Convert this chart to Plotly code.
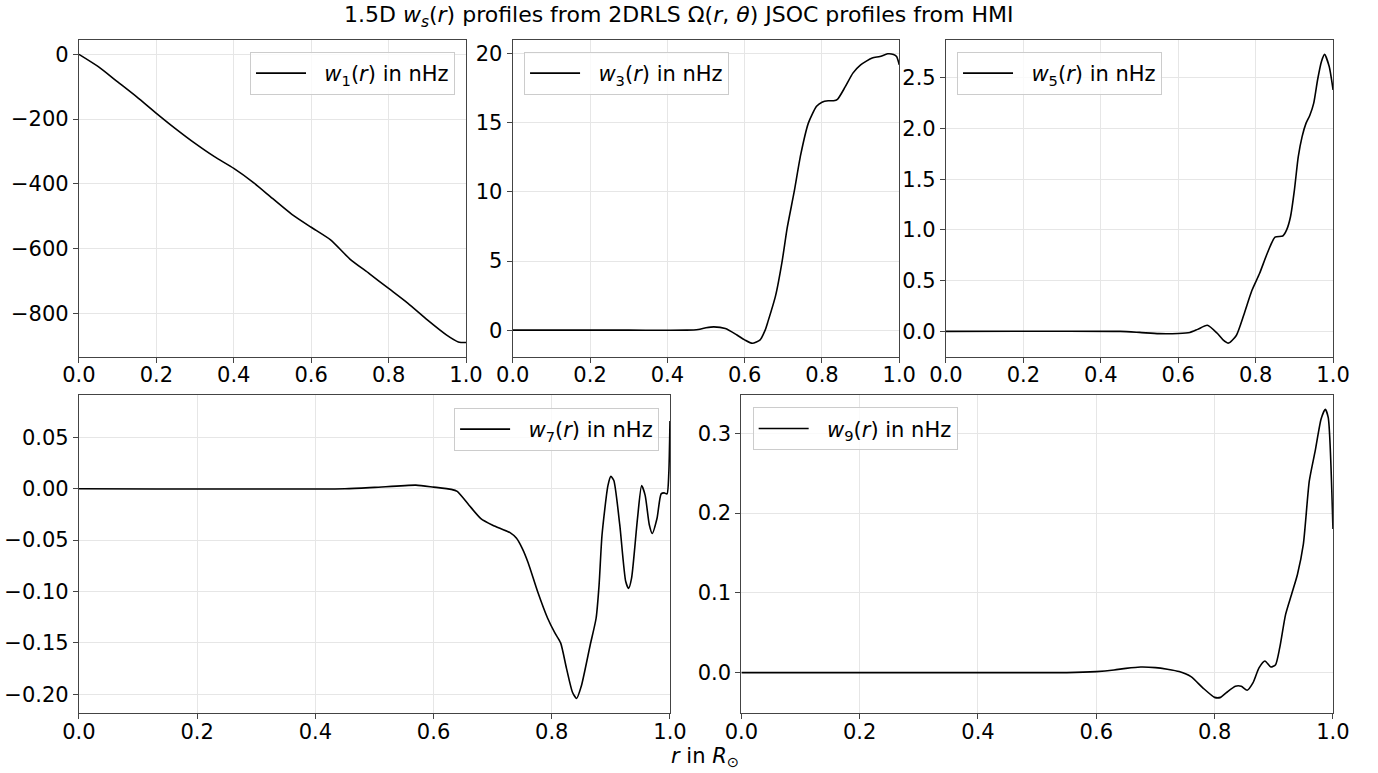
import plotly.graph_objects as go

# ---- data ----
r1 = [0, 0.05, 0.1, 0.15, 0.2, 0.25, 0.3, 0.35, 0.4, 0.45, 0.5, 0.55, 0.6, 0.65, 0.7, 0.75, 0.8, 0.85, 0.9, 0.95, 0.98, 1.0]
w1 = [0, -38, -85, -132, -182, -230, -275, -316, -352, -395, -445, -494, -534, -573, -632, -677, -723, -769, -820, -867, -888, -890]

r3 = [0, 0.3, 0.45, 0.48, 0.5, 0.52, 0.55, 0.58, 0.6, 0.62, 0.64, 0.653, 0.66, 0.68, 0.697, 0.71, 0.728, 0.745, 0.765,
      0.786, 0.80, 0.816, 0.83, 0.84, 0.86, 0.88, 0.90, 0.93, 0.95, 0.97, 0.985, 0.993, 1.0]
w3 = [0, 0, 0, 0.05, 0.17, 0.24, 0.12, -0.35, -0.7, -0.95, -0.7, 0, 0.6, 2.5, 5.0, 7.4, 10.0, 12.7, 15.0,
      16.2, 16.5, 16.6, 16.6, 16.7, 17.6, 18.6, 19.2, 19.7, 19.8, 20.0, 19.95, 19.8, 19.2]

r5 = [0, 0.45, 0.5, 0.55, 0.6, 0.63, 0.65, 0.675, 0.70, 0.715, 0.73, 0.75, 0.77, 0.79, 0.81, 0.83, 0.85, 0.87, 0.88,
      0.89, 0.90, 0.91, 0.92, 0.93, 0.94, 0.95, 0.96, 0.97, 0.978, 0.99, 1.0]
w5 = [0, 0, -0.01, -0.022, -0.02, -0.01, 0.02, 0.06, -0.016, -0.08, -0.115, -0.04, 0.17, 0.40, 0.57, 0.77, 0.93, 0.94, 1.0,
      1.13, 1.39, 1.72, 1.92, 2.05, 2.13, 2.25, 2.48, 2.66, 2.73, 2.61, 2.38]

r7 = [0, 0.45, 0.5, 0.57, 0.6, 0.63, 0.64, 0.66, 0.68, 0.70, 0.73, 0.74, 0.75, 0.76, 0.776, 0.793, 0.805, 0.815, 0.825,
      0.835, 0.842, 0.85, 0.865, 0.875, 0.88, 0.885, 0.895, 0.90, 0.905, 0.915, 0.925, 0.93, 0.935, 0.945, 0.952, 0.958,
      0.965, 0.97, 0.978, 0.985, 0.99, 0.995, 0.998, 1.0]
w7 = [0, 0, 0.0013, 0.0035, 0.0016, -0.0006, -0.0026, -0.016, -0.029, -0.0355, -0.043, -0.048, -0.058, -0.072, -0.1, -0.126, -0.14, -0.15, -0.175,
      -0.198, -0.204, -0.192, -0.152, -0.126, -0.094, -0.045, 0.003, 0.012, 0.008, -0.035, -0.09, -0.097, -0.087, -0.029, 0.003, -0.0065,
      -0.035, -0.0435, -0.029, -0.005, -0.004, -0.005, 0.015, 0.066]

r9 = [0, 0.55, 0.6, 0.63, 0.65, 0.675, 0.7, 0.72, 0.74, 0.76, 0.78, 0.80, 0.81, 0.82, 0.835, 0.845, 0.855, 0.865, 0.875,
      0.885, 0.895, 0.903, 0.91, 0.92, 0.93, 0.94, 0.95, 0.96, 0.97, 0.98, 0.987, 0.992, 1.0]
w9 = [0, 0, 0.0013, 0.0033, 0.0054, 0.0071, 0.0063, 0.0042, 0.0013, -0.005, -0.019, -0.031, -0.031, -0.025, -0.017, -0.017, -0.022, -0.0125, 0.006,
      0.0146, 0.007, 0.010, 0.031, 0.073, 0.098, 0.123, 0.161, 0.24, 0.278, 0.318, 0.33, 0.32, 0.18]

names = ["<i>w</i><sub>1</sub>(<i>r</i>) in nHz", "<i>w</i><sub>3</sub>(<i>r</i>) in nHz",
         "<i>w</i><sub>5</sub>(<i>r</i>) in nHz", "<i>w</i><sub>7</sub>(<i>r</i>) in nHz",
         "<i>w</i><sub>9</sub>(<i>r</i>) in nHz"]
x_ticks = [0, 0.2, 0.4, 0.6, 0.8, 1.0]

FONT = "DejaVu Sans"
FS = 21
PAD = "\u00a0\u00a0"

series = [(r1, w1), (r3, w3), (r5, w5), (r7, w7), (r9, w9)]
xdomains = [[0.0573, 0.3382], [0.3721, 0.6526], [0.6865, 0.9674], [0.0573, 0.4862], [0.5380, 0.9673]]
ydomains = [[0.5382, 0.9483]] * 3 + [[0.0772, 0.4890]] * 2
yranges = [[-934.5, 44.5], [-1.94, 21.0], [-0.252, 2.872], [-0.2185, 0.0912], [-0.051, 0.348]]
ydticks = [200, 5, 0.5, 0.05, 0.1]
yfmts = ["d", "d", ".1f", ".2f", ".1f"]
legpos = [(0.3302, 0.9327, "right"), (0.3803, 0.9327, "left"), (0.6945, 0.9327, "left"),
          (0.4783, 0.4722, "right"), (0.5462, 0.4731, "left")]

fig = go.Figure()
layout = dict(
    width=1378, height=773, margin=dict(l=0, r=0, t=0, b=0, autoexpand=False),
    paper_bgcolor="white", plot_bgcolor="white",
    font=dict(family=FONT, size=FS, color="black"),
)

for i, (r, w) in enumerate(series):
    n = "" if i == 0 else str(i + 1)
    leg = "legend" if i == 0 else "legend" + str(i + 1)
    fig.add_trace(go.Scatter(
        x=r, y=w, mode="lines", name=PAD + names[i],
        line=dict(color="black", width=1.6, shape="spline", smoothing=0.6),
        xaxis="x" + n, yaxis="y" + n, legend=leg, showlegend=True,
    ))
    axcommon = dict(showline=True, linecolor="#444444", linewidth=1.2, mirror=True,
                    ticks="outside", ticklen=5, tickwidth=1.1, tickcolor="#444444",
                    showgrid=True, gridcolor="#e6e6e6", gridwidth=1, zeroline=False,
                    automargin=False,
                    tickfont=dict(family=FONT, size=FS, color="black"))
    layout["xaxis" + n] = dict(domain=xdomains[i], range=[0, 1], anchor="y" + n,
                               tickvals=x_ticks, tickformat=".1f", ticklabelstandoff=-6, **axcommon)
    layout["yaxis" + n] = dict(domain=ydomains[i], range=yranges[i], anchor="x" + n,
                               dtick=ydticks[i], tick0=0, tickformat=yfmts[i], **axcommon)
    xp, yp, xa = legpos[i]
    layout[leg] = dict(x=xp, y=yp, xanchor=xa, yanchor="top", xref="paper", yref="paper",
                       bgcolor="rgba(255,255,255,0.8)", bordercolor="#cccccc", borderwidth=1,
                       itemwidth=50,
                       font=dict(family=FONT, size=FS, color="black"))

layout["annotations"] = [
    dict(text="1.5D <i>w</i><sub><i>s</i></sub>(<i>r</i>) profiles from 2DRLS Ω(<i>r</i>, <i>θ</i>) JSOC profiles from HMI",
         x=679 / 1378, y=1 - 17 / 773, xref="paper", yref="paper", showarrow=False,
         xanchor="center", yanchor="middle", font=dict(family=FONT, size=22, color="black")),
    dict(text="<i>r</i> in <i>R</i><sub>⊙</sub>", x=705 / 1378, y=1 - 757 / 773, xref="paper", yref="paper",
         showarrow=False, xanchor="center", yanchor="middle", font=dict(family=FONT, size=FS, color="black")),
]

fig.update_layout(**layout)
fig.write_html("out.html")
